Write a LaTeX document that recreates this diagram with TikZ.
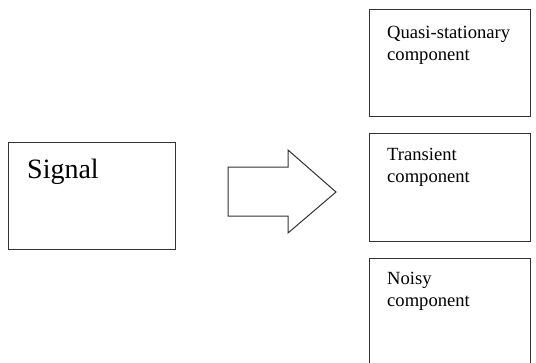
\documentclass[tikz,border=0pt]{standalone}
\usepackage{fontspec}
\setmainfont{Liberation Serif}
\begin{document}
\begin{tikzpicture}
[x=1pt, y=-1pt, box/.style={draw=black!80, line width=1pt, rectangle, anchor=north west, inner sep=0pt, minimum width=161pt, minimum height=108pt}, box text/.style={anchor=base west, align=left, inner sep=0pt, font=\fontsize{18.6}{22}\selectfont}]
    \useasboundingbox (0,0) rectangle (536,362);
    \clip (0,0) rectangle (536,362);
    % input box
    \node[box, minimum width=167pt, minimum height=107pt] (signal) at (8,142) {};
    \node[box text, font=\fontsize{28}{32}\selectfont] (signaltext) at (27,178) {Signal};
    % output boxes (base anchor = last line)
    \node[box, minimum height=107pt] (quasi) at (369,9) {};
    \node[box] (transient) at (369,133) {};
    \node[box] (noisy) at (369,258) {};
    \node[box text] (quasitext) at (387,60) {Quasi-stationary\\component};
    \node[box text] (transienttext) at (387,182) {Transient\\component};
    \node[box text] (noisytext) at (387,306) {Noisy\\component};
    % block arrow
    \draw[draw=black!80, line width=1pt] (228,167) -- (288,167) -- (288,150) -- (336,192)
        -- (288,233) -- (288,216) -- (228,216) -- cycle;
\end{tikzpicture}
\end{document}
